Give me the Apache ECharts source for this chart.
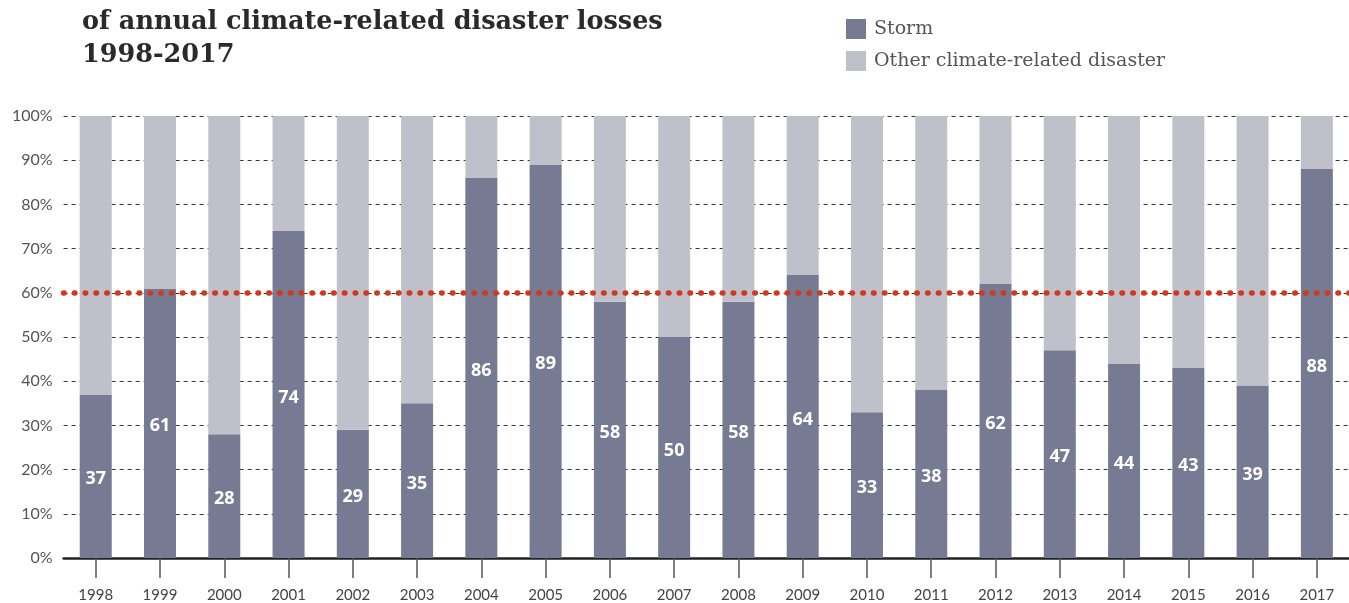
<!DOCTYPE html>
<html><head><meta charset="utf-8">
<script src="https://cdn.jsdelivr.net/npm/echarts@6/dist/echarts.min.js"></script>
<style>html,body{margin:0;padding:0;background:#fff}#c{width:1349px;height:603px}</style>
</head><body><div id="c"></div>
<script>
const years = ['1998','1999','2000','2001','2002','2003','2004','2005','2006','2007','2008','2009','2010','2011','2012','2013','2014','2015','2016','2017'];
const storm = [37,61,28,74,29,35,86,89,58,50,58,64,33,38,62,47,44,43,39,88];
const other = [63,39,72,26,71,65,14,11,42,50,42,36,67,62,38,53,56,57,61,12];
const threshold = 60;
const titleText = 'of annual climate-related disaster losses\n1998-2017';
const seriesNames = ['Storm','Other climate-related disaster'];

const chart = echarts.init(document.getElementById('c'), null, {renderer:'canvas'});
chart.setOption({
  animation:false,
  backgroundColor:'#fff',
  title:{text:titleText,left:77,top:1,textStyle:{fontFamily:'DejaVu Serif',fontWeight:'bold',fontSize:25.5,lineHeight:33,color:'#2a2a2a'}},
  legend:{orient:'vertical',left:841,top:14,itemWidth:20,itemHeight:20,itemGap:12,icon:'rect',
    textStyle:{fontFamily:'DejaVu Serif',fontSize:19,color:'#555',padding:[0,0,0,3]},data:seriesNames},
  grid:{left:63.6,right:-10,top:116,bottom:44,containLabel:false},
  xAxis:{type:'category',data:years,
    axisLine:{lineStyle:{color:'#222',width:2.5}},
    axisTick:{show:true,length:20,alignWithLabel:true,lineStyle:{color:'#555',width:1.5}},
    axisLabel:{margin:30,fontFamily:'Lato',fontSize:15,color:'#444'}},
  yAxis:{type:'value',min:0,max:100,interval:10,
    axisLine:{show:false},axisTick:{show:false},
    axisLabel:{formatter:'{value}%',margin:11,fontFamily:'Lato',fontSize:16,color:'#555'},
    splitLine:{lineStyle:{color:'#333',width:1,type:[4,4]}}},
  series:[
    {name:seriesNames[0],type:'bar',stack:'a',data:storm,barWidth:32,itemStyle:{color:'#767b93'},
     label:{show:true,position:'inside',offset:[0,3],color:'#fff',fontFamily:'Open Sans',fontWeight:'bold',fontSize:18}},
    {name:seriesNames[1],type:'bar',stack:'a',data:other,barWidth:32,itemStyle:{color:'#c0c0ca'},
     markLine:{silent:true,symbol:'none',label:{show:false},z:10,
       lineStyle:{color:'#cf3a1e',width:5.5,type:[0.5,10.3],cap:'round'},data:[{yAxis:threshold}]}}
  ]
});
</script></body></html>
